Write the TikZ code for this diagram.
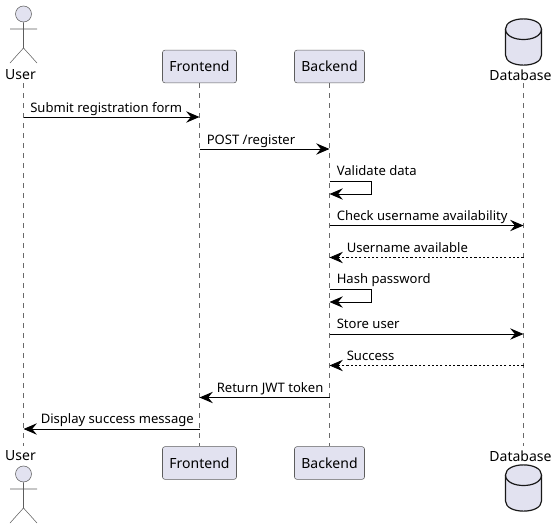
\documentclass[tikz,border=0pt]{standalone}
\usepackage{fontspec}
\setmainfont{Noto Sans}
\usepackage{xcolor}
\usetikzlibrary{arrows.meta,positioning}
\definecolor{partfill}{HTML}{E2E2F0}
\definecolor{partline}{HTML}{181818}
\tikzset{
      msgedge/.style   = {black, line width=0.75pt, -{Stealth[length=10pt,width=8.5pt,inset=3.5pt]}},
      replyedge/.style = {black, line width=0.5pt, dash pattern=on 1.6pt off 1.6pt, -{Stealth[length=10pt,width=8.5pt,inset=3.5pt]}},
      lifeline/.style  = {partline!65, line width=0.4pt, dash pattern=on 3.75pt off 3.75pt},
      partbox/.style   = {draw=partline!70, line width=0.4pt, fill=partfill, rounded corners=1.8pt, minimum height=24.5pt, inner sep=0pt, font=\fontsize{10.5}{12}\selectfont},
      msglabel/.style  = {anchor=base west, inner sep=0pt, font=\fontsize{9.8}{11}\selectfont},
      actorlabel/.style = {inner sep=0pt, font=\fontsize{10.5}{12}\selectfont},
      actorhead/.style = {circle, draw=partline!70, line width=0.4pt, fill=partfill, minimum size=12pt, inner sep=0pt},
      actorline/.style = {partline!70, line width=0.4pt},
      dbline/.style    = {partline, line width=0.9pt, fill=partfill},
    }

\begin{document}
\begin{tikzpicture}[x=0.75pt,y=-0.75pt]
        \useasboundingbox (0,0) rectangle (557,529);
        % participants, top row
        \node [actorhead] (usertop) at (23.5,14) {};
        \node [actorlabel] (userlabeltop) at (20.5,75) {User};
        \node [partbox,minimum width=55.5pt] (frontendtop) at (199.5,66.5) {Frontend};
        \node [partbox,minimum width=52.5pt] (backendtop) at (329.5,66.5) {Backend};
        \node [actorlabel] (dblabeltop) at (520.5,75) {Database};
        % participants, bottom row
        \node [actorlabel] (userlabelbot) at (20.5,456) {User};
        \node [actorhead] (userbot) at (23.5,474) {};
        \node [partbox,minimum width=55.5pt] (frontendbot) at (199.5,463) {Frontend};
        \node [partbox,minimum width=52.5pt] (backendbot) at (329.5,463) {Backend};
        \node [actorlabel] (dblabelbot) at (520.5,456) {Database};

        % actor bodies
        \coordinate (hiptop) at (23.5,48);
        \coordinate (hipbot) at (23.5,508);
        \draw [actorline] (usertop) -- (hiptop) -- (10,63) (hiptop) -- (37,63) (10,29) -- (37,29);
        \draw [actorline] (userbot) -- (hipbot) -- (10,523) (hipbot) -- (37,523) (10,489) -- (37,489);

        % database cylinders
        \draw [dbline] (505.5,29) .. controls (505.5,15.5) and (541.5,15.5) .. (541.5,29) -- (541.5,55)
              .. controls (541.5,68.5) and (505.5,68.5) .. (505.5,55) -- cycle;
        \draw [dbline,fill=none] (505.5,29) .. controls (505.5,43) and (541.5,43) .. (541.5,29);
        \draw [dbline] (505.5,475) .. controls (505.5,461.5) and (541.5,461.5) .. (541.5,475) -- (541.5,501)
              .. controls (541.5,514.5) and (505.5,514.5) .. (505.5,501) -- cycle;
        \draw [dbline,fill=none] (505.5,475) .. controls (505.5,489) and (541.5,489) .. (541.5,475);

        % lifelines
        \coordinate (ut) at (23.5,83);
        \coordinate (ub) at (23.5,446);
        \coordinate (dt) at (523.5,83);
        \coordinate (db) at (523.5,446);
        \path (ut) edge[lifeline] (ub);
        \path (frontendtop) edge[lifeline] (frontendbot);
        \path (backendtop) edge[lifeline] (backendbot);
        \path (dt) edge[lifeline] (db);

        % message ends
        \coordinate (u1) at (23.5,117);
        \coordinate (f1) at (199.5,117);
        \coordinate (f2) at (199.5,149);
        \coordinate (b2) at (329.5,149);
        \coordinate (b3) at (329.5,181.5);
        \coordinate (s3) at (371.5,181.5);
        \coordinate (t3) at (371.5,194);
        \coordinate (e3) at (329.5,194);
        \coordinate (b4) at (329.5,225.5);
        \coordinate (d4) at (523.5,225.5);
        \coordinate (d5) at (523.5,257.5);
        \coordinate (b5) at (329.5,257.5);
        \coordinate (b6) at (329.5,289.5);
        \coordinate (s6) at (371.5,289.5);
        \coordinate (t6) at (371.5,302);
        \coordinate (e6) at (329.5,302);
        \coordinate (b7) at (329.5,334);
        \coordinate (d7) at (523.5,334);
        \coordinate (d8) at (523.5,365.5);
        \coordinate (b8) at (329.5,365.5);
        \coordinate (b9) at (329.5,397.5);
        \coordinate (f9) at (199.5,397.5);
        \coordinate (f10) at (199.5,429);
        \coordinate (u10) at (23.5,429);

        % messages
        \path (u1) edge[msgedge] (f1);
        \path (f2) edge[msgedge] (b2);
        \draw [msgedge] (b3) -- (s3) -- (t3) -- (e3);
        \path (b4) edge[msgedge] (d4);
        \path (d5) edge[replyedge] (b5);
        \draw [msgedge] (b6) -- (s6) -- (t6) -- (e6);
        \path (b7) edge[msgedge] (d7);
        \path (d8) edge[replyedge] (b8);
        \path (b9) edge[msgedge] (f9);
        \path (f10) edge[msgedge] (u10);

        % labels
        \node [msglabel] (m1) at (30,112) {Submit registration form};
        \node [msglabel] (m2) at (206.5,144) {POST /register};
        \node [msglabel] (m3) at (336.5,175) {Validate data};
        \node [msglabel] (m4) at (336.5,220) {Check username availability};
        \node [msglabel] (m5) at (346.5,252) {Username available};
        \node [msglabel] (m6) at (336.5,283) {Hash password};
        \node [msglabel] (m7) at (336.5,328) {Store user};
        \node [msglabel] (m8) at (346.5,360) {Success};
        \node [msglabel] (m9) at (216.5,392) {Return JWT token};
        \node [msglabel] (m10) at (40.5,423) {Display success message};
\end{tikzpicture}
\end{document}
